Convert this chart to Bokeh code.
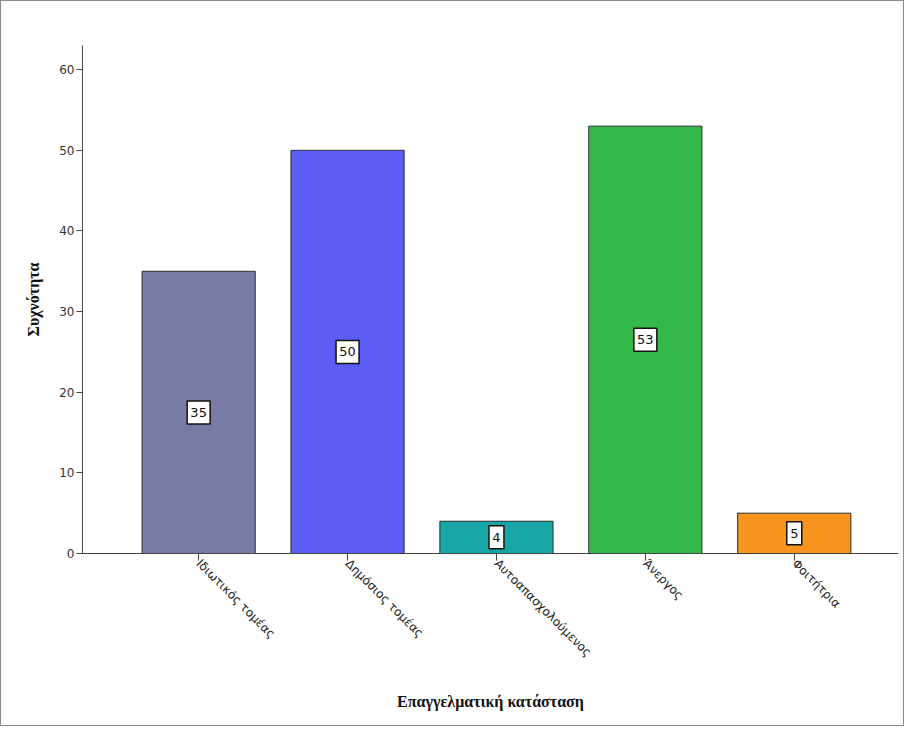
import numpy as np
from bokeh.plotting import figure
from bokeh.models import Range1d, FixedTicker, ColumnDataSource
from bokeh.core.properties import value
from bokeh.embed import file_html
from bokeh.resources import INLINE

categories = ["Ιδιωτικός τομέας", "Δημόσιος τομέας", "Αυτοαπασχολούμενος", "Άνεργος", "Φοιτήτρια"]
counts = [35, 50, 4, 53, 5]
colors = ["#7a7aa6", "#5c5cf6", "#17a5a6", "#33b84a", "#f7941d"]
y_ticks = [0, 10, 20, 30, 40, 50, 60]

xs = np.arange(len(categories))
lbls = [str(c) for c in counts]
src = ColumnDataSource(dict(
    x=xs, top=counts, color=colors,
    mid=[c / 2 for c in counts],
    label=lbls,
    boxw=[7 + 8 * len(s) for s in lbls],
))

p = figure(width=904, height=726, output_backend="svg", toolbar_location=None,
           x_range=Range1d(-0.78, 4.70), y_range=Range1d(0, 63),
           min_border_left=81, min_border_right=7, min_border_top=44, min_border_bottom=174)
p.styles = {"border": "1px solid #8a8a8a", "box-sizing": "border-box"}
p.outline_line_color = None
p.xgrid.visible = False
p.ygrid.visible = False

p.vbar(x="x", top="top", bottom=0, width=0.76, fill_color="color",
       line_color="#2b2b2b", line_width=1, source=src)

p.rect(x="x", y="mid", width="boxw", height=23, width_units="screen", height_units="screen",
       fill_color="white", line_color="#111111", line_width=1.5, source=src)
p.text(x="x", y="mid", text="label", source=src, text_align="center", text_baseline="middle",
       text_font=value("DejaVu Sans"), text_font_size="13px", text_color="#111111")

# Axes
p.yaxis.ticker = FixedTicker(ticks=y_ticks)
p.yaxis.axis_label = "Συχνότητα"
p.yaxis.axis_label_text_font = "Liberation Serif"
p.yaxis.axis_label_text_font_style = "bold"
p.yaxis.axis_label_text_font_size = "16px"
p.yaxis.axis_label_text_color = "#111111"
p.yaxis.axis_label_standoff = 14
p.yaxis.major_label_text_font = "DejaVu Sans"
p.yaxis.major_label_text_font_size = "12px"
p.yaxis.major_label_text_color = "#333333"
p.yaxis.major_tick_out = 6
p.yaxis.major_tick_in = 0
p.yaxis.minor_tick_out = 0
p.yaxis.minor_tick_in = 0
p.yaxis.axis_line_color = "#444444"
p.yaxis.major_tick_line_color = "#444444"
p.yaxis.major_label_standoff = 2

p.xaxis.ticker = FixedTicker(ticks=list(xs))
p.xaxis.major_label_overrides = {int(i): c for i, c in zip(xs, categories)}
p.xaxis.major_label_orientation = -np.pi / 4
p.xaxis.major_label_text_font = "DejaVu Sans"
p.xaxis.major_label_text_font_size = "12px"
p.xaxis.major_label_text_color = "#222222"
p.xaxis.major_label_standoff = 1
p.xaxis.major_tick_out = 7
p.xaxis.major_tick_in = 0
p.xaxis.minor_tick_out = 0
p.xaxis.axis_line_color = "#444444"
p.xaxis.major_tick_line_color = "#444444"
p.xaxis.axis_label = "Επαγγελματική κατάσταση"
p.xaxis.axis_label_text_font = "Liberation Serif"
p.xaxis.axis_label_text_font_style = "bold"
p.xaxis.axis_label_text_font_size = "16px"
p.xaxis.axis_label_text_color = "#111111"
p.xaxis.axis_label_standoff = 26

open("out.html", "w").write(file_html(p, INLINE))
